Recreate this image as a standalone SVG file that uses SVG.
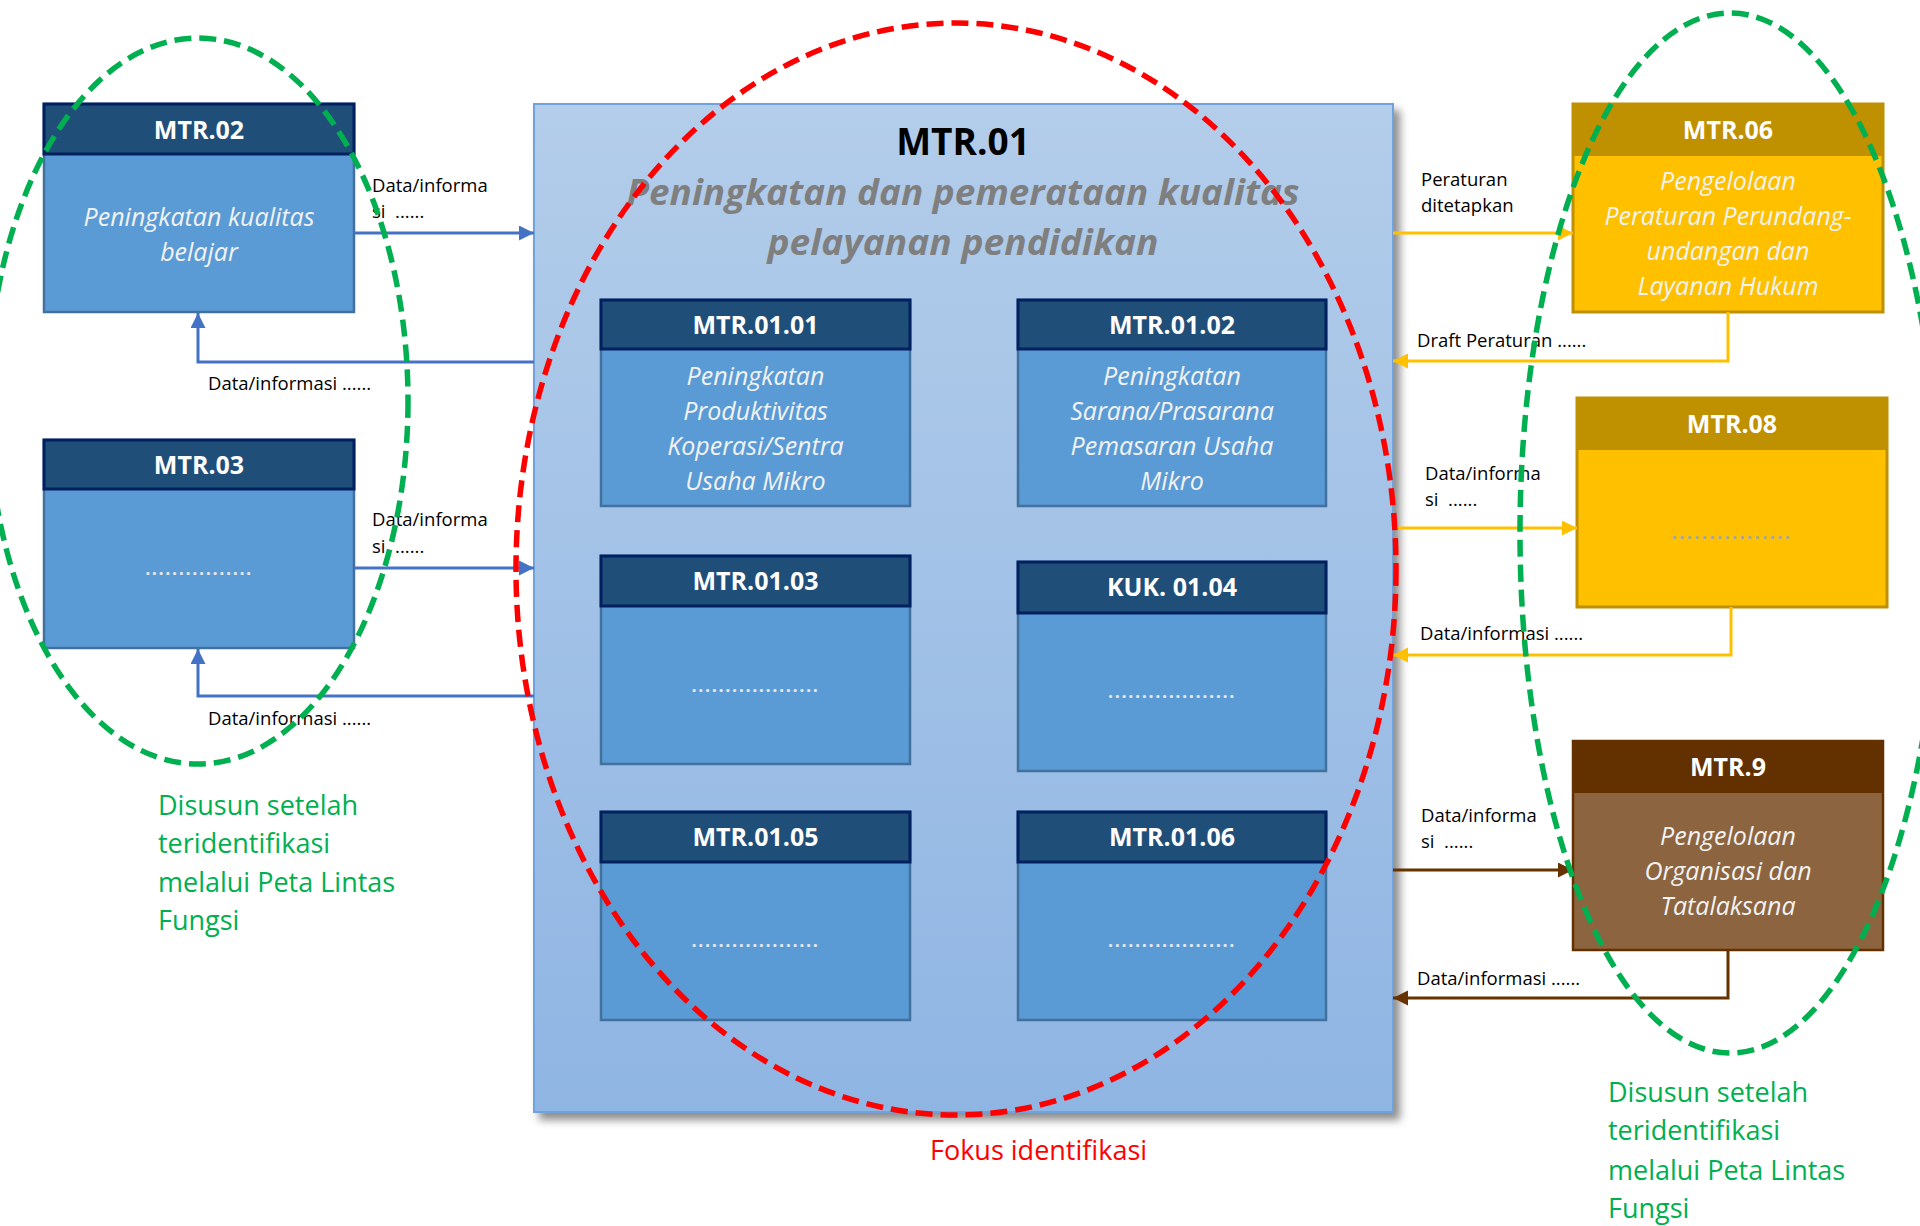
<svg xmlns="http://www.w3.org/2000/svg" width="1920" height="1226" viewBox="0 0 1920 1226">
<defs>
<linearGradient id="gMain" x1="0" y1="0" x2="0" y2="1">
<stop offset="0" stop-color="#B3CDEA"/>
<stop offset="1" stop-color="#8FB5E3"/>
</linearGradient>
<filter id="shadow" x="-5%" y="-5%" width="115%" height="115%">
<feDropShadow dx="6" dy="7" stdDeviation="4" flood-color="#000" flood-opacity="0.45"/>
</filter>
<marker id="aBlue" markerUnits="userSpaceOnUse" markerWidth="16" markerHeight="16" refX="15" refY="7.5" orient="auto"><path d="M0,0 L15,7.5 L0,15 z" fill="#4472C4"/></marker>
<marker id="aYellow" markerUnits="userSpaceOnUse" markerWidth="16" markerHeight="16" refX="15" refY="7.5" orient="auto"><path d="M0,0 L15,7.5 L0,15 z" fill="#FFC000"/></marker>
<marker id="aBrown" markerUnits="userSpaceOnUse" markerWidth="16" markerHeight="16" refX="15" refY="7.5" orient="auto"><path d="M0,0 L15,7.5 L0,15 z" fill="#663300"/></marker>
</defs>
<style>
text{font-family:"Open Sans","Noto Sans","DejaVu Sans",sans-serif}
.bhd{fill:#1F4E79;stroke:#002060;stroke-width:3}
.bbd{fill:#5B9BD5;stroke:#41719C;stroke-width:2.5}
.yhd{fill:#BF9000;stroke:#BF9000;stroke-width:2}
.ybd{fill:#FFC000;stroke:#BF9000;stroke-width:3}
.nhd{fill:#633100;stroke:#633100;stroke-width:2}
.nbd{fill:#8C6540;stroke:#633100;stroke-width:2.5}
.ht{fill:#FFFFFF;font-weight:700;font-size:25px;text-anchor:middle}
.it{fill:#F2F2F2;font-style:italic;font-size:25px;text-anchor:middle}
.dots{fill:#E6E6E6;font-size:18px;font-weight:700;text-anchor:middle;letter-spacing:1.6px}
.dotsy{fill:#A6A6A6;font-size:18px;font-weight:700;text-anchor:middle;letter-spacing:2.4px}
.lbl{fill:#000000;font-size:18.5px}
.grn{fill:#00B050;font-size:27px}
.cb{fill:none;stroke:#4472C4;stroke-width:3}
.cy{fill:none;stroke:#FFC000;stroke-width:3}
.cn{fill:none;stroke:#663300;stroke-width:3}
.ell{fill:none;stroke-width:5.5;stroke-dasharray:17 8}
</style>

<g id="MTR01">
<rect x="534" y="104" width="859" height="1008" fill="url(#gMain)" stroke="#6FA3DE" stroke-width="2" filter="url(#shadow)"/>
<text x="963" y="155" text-anchor="middle" font-size="37" font-weight="700" fill="#000">MTR.01</text>
<text x="963" y="205" text-anchor="middle" font-size="36" font-weight="700" font-style="italic" fill="#7F7F7F" textLength="673" lengthAdjust="spacingAndGlyphs">Peningkatan dan pemerataan kualitas</text>
<text x="963" y="255" text-anchor="middle" font-size="36" font-weight="700" font-style="italic" fill="#7F7F7F" textLength="391" lengthAdjust="spacingAndGlyphs">pelayanan pendidikan</text>
</g>

<g id="MTR0101">
<rect class="bbd" x="601" y="300" width="309" height="206"/>
<rect class="bhd" x="601" y="300" width="309" height="49"/>
<text class="ht" x="755.5" y="334">MTR.01.01</text>
<text class="it" x="755.5" y="385">Peningkatan</text>
<text class="it" x="755.5" y="420">Produktivitas</text>
<text class="it" x="755.5" y="455">Koperasi/Sentra</text>
<text class="it" x="755.5" y="490">Usaha Mikro</text>
</g>

<g id="MTR0102">
<rect class="bbd" x="1018" y="300" width="308" height="206"/>
<rect class="bhd" x="1018" y="300" width="308" height="49"/>
<text class="ht" x="1172" y="334">MTR.01.02</text>
<text class="it" x="1172" y="385">Peningkatan</text>
<text class="it" x="1172" y="420">Sarana/Prasarana</text>
<text class="it" x="1172" y="455">Pemasaran Usaha</text>
<text class="it" x="1172" y="490">Mikro</text>
</g>

<g id="MTR0103">
<rect class="bbd" x="601" y="556" width="309" height="208"/>
<rect class="bhd" x="601" y="556" width="309" height="50"/>
<text class="ht" x="755.5" y="590">MTR.01.03</text>
<text class="dots" x="755.5" y="692">...................</text>
</g>

<g id="KUK0104">
<rect class="bbd" x="1018" y="562" width="308" height="209"/>
<rect class="bhd" x="1018" y="562" width="308" height="51"/>
<text class="ht" x="1172" y="596">KUK. 01.04</text>
<text class="dots" x="1172" y="698">...................</text>
</g>

<g id="MTR0105">
<rect class="bbd" x="601" y="812" width="309" height="208"/>
<rect class="bhd" x="601" y="812" width="309" height="50"/>
<text class="ht" x="755.5" y="846">MTR.01.05</text>
<text class="dots" x="755.5" y="947">...................</text>
</g>

<g id="MTR0106">
<rect class="bbd" x="1018" y="812" width="308" height="208"/>
<rect class="bhd" x="1018" y="812" width="308" height="50"/>
<text class="ht" x="1172" y="846">MTR.01.06</text>
<text class="dots" x="1172" y="947">...................</text>
</g>

<g id="MTR02">
<rect class="bbd" x="44" y="104" width="310" height="208"/>
<rect class="bhd" x="44" y="104" width="310" height="50"/>
<text class="ht" x="199" y="139">MTR.02</text>
<text class="it" x="199" y="226">Peningkatan kualitas</text>
<text class="it" x="199" y="261">belajar</text>
</g>

<g id="MTR03">
<rect class="bbd" x="44" y="440" width="310" height="208"/>
<rect class="bhd" x="44" y="440" width="310" height="49"/>
<text class="ht" x="199" y="474">MTR.03</text>
<text class="dots" x="199" y="575" letter-spacing="2.4">................</text>
</g>

<g id="MTR06">
<rect class="ybd" x="1573" y="104" width="310" height="208"/>
<rect class="yhd" x="1573" y="104" width="310" height="51"/>
<text class="ht" x="1728" y="139">MTR.06</text>
<text class="it" x="1728" y="190">Pengelolaan</text>
<text class="it" x="1728" y="225">Peraturan Perundang-</text>
<text class="it" x="1728" y="260">undangan dan</text>
<text class="it" x="1728" y="295">Layanan Hukum</text>
</g>

<g id="MTR08">
<rect class="ybd" x="1577" y="398" width="310" height="209"/>
<rect class="yhd" x="1577" y="398" width="310" height="51"/>
<text class="ht" x="1732" y="433">MTR.08</text>
<text class="dotsy" x="1732" y="539">................</text>
</g>

<g id="MTR9">
<rect class="nbd" x="1573" y="741" width="310" height="209"/>
<rect class="nhd" x="1573" y="741" width="310" height="51"/>
<text class="ht" x="1728" y="776">MTR.9</text>
<text class="it" x="1728" y="845">Pengelolaan</text>
<text class="it" x="1728" y="880">Organisasi dan</text>
<text class="it" x="1728" y="915">Tatalaksana</text>
</g>

<g id="connectors">
<path class="cb" d="M354,233 H534" marker-end="url(#aBlue)"/>
<path class="cb" d="M534,362 H198 V313" marker-end="url(#aBlue)"/>
<path class="cb" d="M354,568 H534" marker-end="url(#aBlue)"/>
<path class="cb" d="M534,696 H198 V649" marker-end="url(#aBlue)"/>
<path class="cy" d="M1393,233 H1573" marker-end="url(#aYellow)"/>
<path class="cy" d="M1728,312 V361 H1393" marker-end="url(#aYellow)"/>
<path class="cy" d="M1393,528 H1577" marker-end="url(#aYellow)"/>
<path class="cy" d="M1731,607 V655 H1393" marker-end="url(#aYellow)"/>
<path class="cn" d="M1393,870 H1573" marker-end="url(#aBrown)"/>
<path class="cn" d="M1728,950 V998 H1393" marker-end="url(#aBrown)"/>
</g>

<g id="labels">
<text class="lbl" x="372" y="192">Data/informa</text>
<text class="lbl" x="372" y="218" xml:space="preserve">si  ......</text>
<text class="lbl" x="208" y="390">Data/informasi ......</text>
<text class="lbl" x="372" y="526">Data/informa</text>
<text class="lbl" x="372" y="553" xml:space="preserve">si  ......</text>
<text class="lbl" x="208" y="725">Data/informasi ......</text>
<text class="lbl" x="1421" y="186">Peraturan</text>
<text class="lbl" x="1421" y="212">ditetapkan</text>
<text class="lbl" x="1417" y="347">Draft Peraturan ......</text>
<text class="lbl" x="1425" y="480">Data/informa</text>
<text class="lbl" x="1425" y="506" xml:space="preserve">si  ......</text>
<text class="lbl" x="1420" y="640">Data/informasi ......</text>
<text class="lbl" x="1421" y="822">Data/informa</text>
<text class="lbl" x="1421" y="848" xml:space="preserve">si  ......</text>
<text class="lbl" x="1417" y="985">Data/informasi ......</text>
</g>

<g id="focus">
<ellipse class="ell" cx="956" cy="569" rx="440" ry="546" stroke="#FF0000"/>
<ellipse class="ell" cx="198" cy="401" rx="210" ry="363" stroke="#00B050"/>
<ellipse class="ell" cx="1730" cy="533" rx="210" ry="520" stroke="#00B050"/>
<text x="930" y="1160" font-size="27" fill="#FF0000">Fokus identifikasi</text>
<text class="grn" x="158" y="815">Disusun setelah</text>
<text class="grn" x="158" y="853">teridentifikasi</text>
<text class="grn" x="158" y="892">melalui Peta Lintas</text>
<text class="grn" x="158" y="930">Fungsi</text>
<text class="grn" x="1608" y="1102">Disusun setelah</text>
<text class="grn" x="1608" y="1140">teridentifikasi</text>
<text class="grn" x="1608" y="1180">melalui Peta Lintas</text>
<text class="grn" x="1608" y="1218">Fungsi</text>
</g>
</svg>
